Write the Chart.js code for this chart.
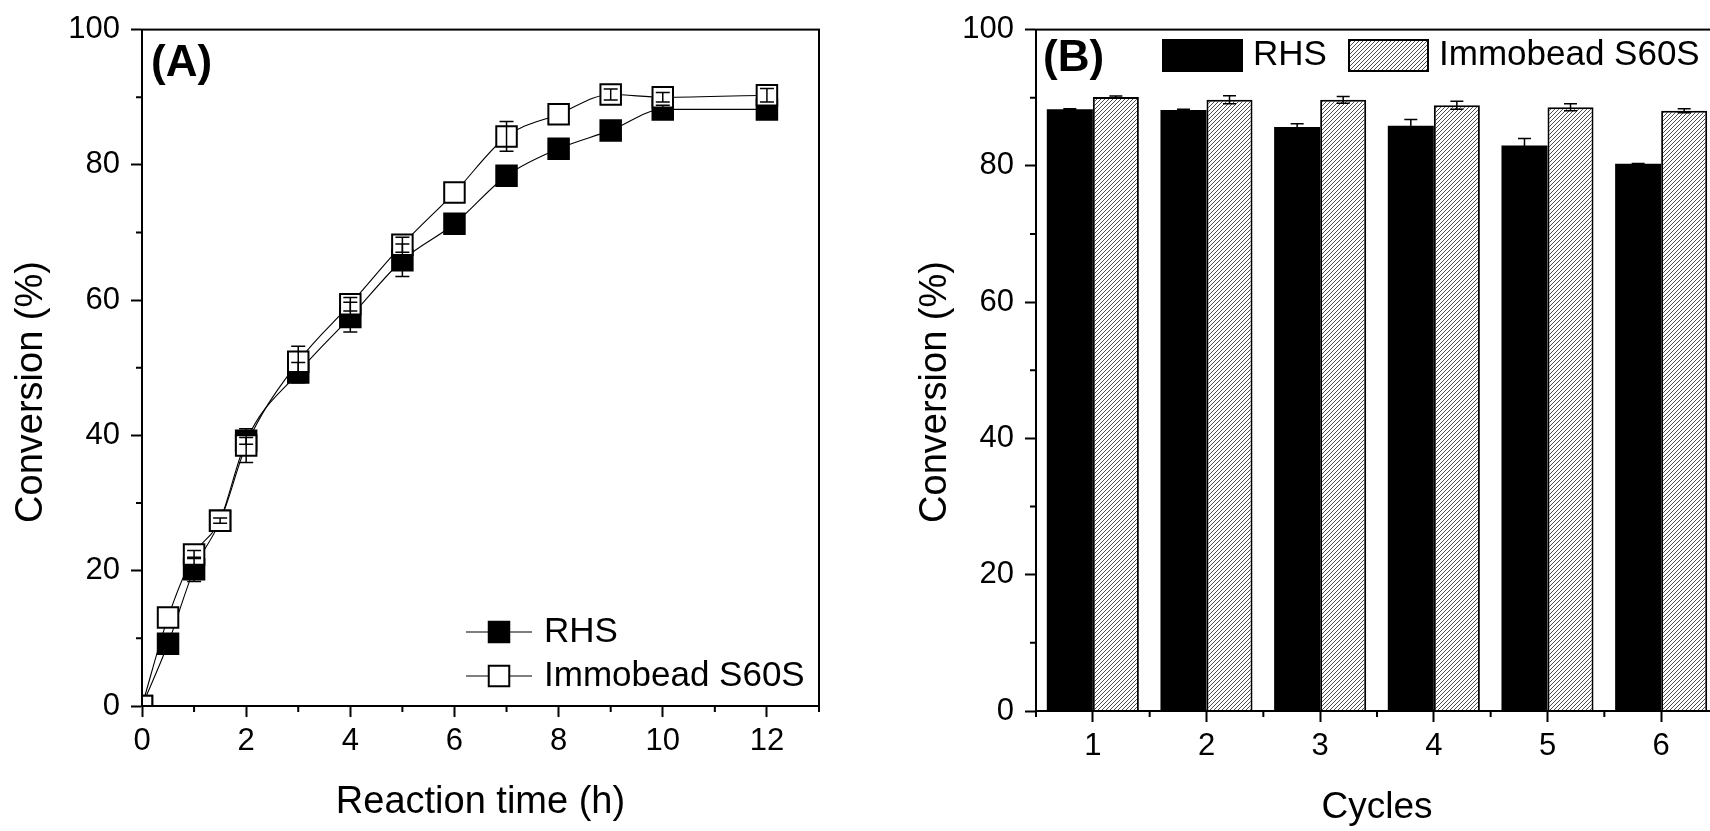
<!DOCTYPE html>
<html lang="en">
<head>
<meta charset="UTF-8">
<title>Conversion: reaction time and reuse cycles</title>
<script src="https://cdn.jsdelivr.net/npm/chart.js@4.4.1/dist/chart.umd.min.js"></script>
<style>
    html, body { margin: 0; padding: 0; background: #fff; overflow: hidden; }
    body { width: 1710px; height: 831px; position: relative; }
    #chartA { position: absolute; left: 0; top: 0; }
    #chartB { position: absolute; left: 860px; top: 0; }
</style>
</head>
<body>
<canvas id="chartA" width="860" height="831"></canvas>
<canvas id="chartB" width="900" height="831"></canvas>
<script>
// (A) conversion vs reaction time
const timeH    = [0, 0.5, 1, 1.5, 2, 3, 4, 5, 6, 7, 8, 9, 10, 12];
const rhsConv  = [0, 9.2, 20.2, 27.4, 39.2, 49.3, 57.5, 65.9, 71.3, 78.4, 82.4, 85.1, 88.2, 88.2];
const rhsErr   = [0, 0.4, 1.8, 0.4, 0.5, 1.5, 2.2, 2.4, 0.5, 0.8, 0.5, 0.5, 0.6, 0.4];
const immoConv = [0, 13.1, 22.4, 27.4, 38.5, 50.9, 59.4, 68.2, 75.9, 84.2, 87.5, 90.4, 90.0, 90.3];
const immoErr  = [0, 0, 0.6, 0, 2.5, 2.3, 1.0, 1.1, 0, 2.2, 0, 0.8, 0.7, 1.0];

// (B) conversion per reuse cycle
const cycles       = ['1', '2', '3', '4', '5', '6'];
const rhsCycle     = [88.3, 88.2, 85.7, 85.9, 83.0, 80.3];
const rhsCycleErr  = [0.1, 0.1, 0.5, 0.9, 1.0, 0.05];
const immoCycle    = [90.1, 89.7, 89.7, 88.9, 88.6, 88.1];
const immoCycleErr = [0.15, 0.6, 0.5, 0.6, 0.5, 0.3];

const FONT = "'Liberation Sans', Arial, sans-serif";
Chart.defaults.font.family = FONT;
Chart.defaults.font.size = 31;
Chart.defaults.color = '#000';

// symmetric error bars, drawn over all markers
const errorBars = {
    id: 'errorBars',
    afterDatasetsDraw(chart, args, o) {
        const { ctx, chartArea: a } = chart;
        const y = chart.scales.y;
        ctx.save();
        ctx.beginPath();
        ctx.rect(a.left, a.top, a.width, a.height);
        ctx.clip();
        ctx.strokeStyle = '#000';
        ctx.lineWidth = o.width;
        chart.data.datasets.forEach((ds, i) => {
            if (!ds.errors) return;
            chart.getDatasetMeta(i).data.forEach((el, j) => {
                const e = ds.errors[j];
                if (!e) return;
                const v = typeof ds.data[j] === 'object' ? ds.data[j].y : ds.data[j];
                const top = y.getPixelForValue(v + e), bot = y.getPixelForValue(v - e);
                const h = o.cap / 2;
                ctx.beginPath();
                ctx.moveTo(el.x, top); ctx.lineTo(el.x, bot);
                ctx.moveTo(el.x - h, top); ctx.lineTo(el.x + h, top);
                ctx.moveTo(el.x - h, bot); ctx.lineTo(el.x + h, bot);
                ctx.stroke();
            });
        });
        ctx.restore();
    }
};

// box around the plot + short minor ticks
const frame = {
    id: 'frame',
    afterDraw(chart, args, o) {
        const { ctx, chartArea: a } = chart;
        const x = chart.scales.x, y = chart.scales.y;
        ctx.save();
        ctx.strokeStyle = '#000';
        ctx.lineWidth = 2;
        ctx.strokeRect(a.left, a.top, a.width, a.height);
        ctx.beginPath();
        o.xMinor.forEach(v => {
            const p = x.getPixelForValue(v);
            ctx.moveTo(p, a.bottom); ctx.lineTo(p, a.bottom + o.len);
        });
        o.yMinor.forEach(v => {
            const p = y.getPixelForValue(v);
            ctx.moveTo(a.left, p); ctx.lineTo(a.left - o.len, p);
        });
        ctx.stroke();
        ctx.restore();
    }
};

// panel tag and rotated y title
const labels = {
    id: 'labels',
    afterDraw(chart, args, o) {
        const ctx = chart.ctx;
        ctx.save();
        ctx.fillStyle = '#000';
        ctx.font = 'bold ' + o.tagSize + 'px ' + FONT;
        ctx.textAlign = 'left';
        ctx.textBaseline = 'alphabetic';
        ctx.fillText(o.tag, o.tagX, o.tagY);
        ctx.translate(o.titleX, o.titleY);
        ctx.rotate(-Math.PI / 2);
        ctx.font = o.titleSize + 'px ' + FONT;
        ctx.textAlign = 'center';
        ctx.textBaseline = 'middle';
        ctx.fillText(o.title, 0, 0);
        ctx.restore();
    }
};

// legend for (A): line through marker, then label
const lineLegend = {
    id: 'lineLegend',
    afterDraw(chart, args, o) {
        const ctx = chart.ctx;
        ctx.save();
        chart.data.datasets.forEach((ds, i) => {
            const cy = o.rows[i];
            ctx.strokeStyle = '#000';
            ctx.lineWidth = 1.2;
            ctx.beginPath();
            ctx.moveTo(o.x0, cy); ctx.lineTo(o.x1, cy);
            ctx.stroke();
            const s = o.side;
            ctx.fillStyle = ds.pointBackgroundColor;
            ctx.lineWidth = 2;
            ctx.fillRect(o.mx - s / 2, cy - s / 2, s, s);
            ctx.strokeRect(o.mx - s / 2, cy - s / 2, s, s);
            ctx.fillStyle = '#000';
            ctx.font = o.size + 'px ' + FONT;
            ctx.textAlign = 'left';
            ctx.textBaseline = 'middle';
            ctx.fillText(ds.label, o.tx, cy);
        });
        ctx.restore();
    }
};

// legend for (B): filled boxes in one row
const boxLegend = {
    id: 'boxLegend',
    afterDraw(chart, args, o) {
        const ctx = chart.ctx;
        ctx.save();
        chart.data.datasets.forEach((ds, i) => {
            const bx = o.boxX[i];
            ctx.fillStyle = ds.backgroundColor;
            ctx.fillRect(bx, o.y, o.w, o.h);
            ctx.strokeStyle = '#000';
            ctx.lineWidth = 2;
            ctx.strokeRect(bx, o.y, o.w, o.h);
            ctx.fillStyle = '#000';
            ctx.font = o.size + 'px ' + FONT;
            ctx.textAlign = 'left';
            ctx.textBaseline = 'middle';
            ctx.fillText(ds.label, bx + o.w + o.gap, o.y + o.h / 2);
        });
        ctx.restore();
    }
};

function axisStyle() {
    return {
        grid: { drawOnChartArea: false, tickLength: 11, tickWidth: 2, tickColor: '#000' },
        border: { width: 2, color: '#000' }
    };
}

const oddHours = [];
for (let v = 1; v <= 13; v += 2) oddHours.push(v);
const oddTens = [10, 30, 50, 70, 90];

new Chart(document.getElementById('chartA'), {
    type: 'scatter',
    data: {
        datasets: [
            {
                label: 'RHS',
                data: timeH.map((t, i) => ({ x: t, y: rhsConv[i] })),
                errors: rhsErr,
                showLine: true,
                borderColor: '#000',
                borderWidth: 1.1,
                cubicInterpolationMode: 'monotone',
                pointStyle: 'rect',
                pointRadius: 14.5,
                pointBackgroundColor: '#000',
                pointBorderColor: '#000',
                pointBorderWidth: 2,
                clip: 0,
                order: 1
            },
            {
                label: 'Immobead S60S',
                data: timeH.map((t, i) => ({ x: t, y: immoConv[i] })),
                errors: immoErr,
                showLine: true,
                borderColor: '#000',
                borderWidth: 1.1,
                cubicInterpolationMode: 'monotone',
                pointStyle: 'rect',
                pointRadius: 14.5,
                pointBackgroundColor: '#fff',
                pointBorderColor: '#000',
                pointBorderWidth: 2,
                clip: 0,
                order: 0
            }
        ]
    },
    options: {
        responsive: false,
        animation: false,
        events: [],
        layout: { padding: { top: 29, right: 41, bottom: 0, left: 0 } },
        plugins: {
            legend: { display: false },
            tooltip: { enabled: false },
            errorBars: { width: 1.5, cap: 14 },
            frame: { xMinor: oddHours, yMinor: oddTens, len: 6 },
            labels: { tag: '(A)', tagSize: 44, tagX: 151, tagY: 76,
                      title: 'Conversion (%)', titleSize: 38, titleX: 32, titleY: 392 },
            lineLegend: { x0: 466, x1: 532, mx: 499, side: 20.5, tx: 544, rows: [632, 676], size: 35 }
        },
        scales: {
            x: Object.assign(axisStyle(), {
                type: 'linear', min: 0, max: 13,
                afterFit(s) { s.height = 125; },
                ticks: { stepSize: 2, includeBounds: false, padding: 6, maxRotation: 0 },
                title: { display: true, text: 'Reaction time (h)', font: { size: 38 }, padding: { top: 0, bottom: 6 } }
            }),
            y: Object.assign(axisStyle(), {
                min: 0, max: 100,
                afterFit(s) { s.width = 142; },
                ticks: { stepSize: 20, includeBounds: false, padding: 11 }
            })
        }
    },
    plugins: [errorBars, frame, labels, lineLegend]
});

// diagonal hatch for the Immobead bars
const hatch = (function () {
    const tile = document.createElement('canvas');
    tile.width = tile.height = 4;
    const g = tile.getContext('2d');
    g.fillStyle = '#fff';
    g.fillRect(0, 0, 4, 4);
    g.strokeStyle = '#000';
    g.lineWidth = 0.7;
    g.beginPath();
    g.moveTo(-1, 5); g.lineTo(5, -1);
    g.moveTo(-1, 1); g.lineTo(1, -1);
    g.moveTo(3, 5); g.lineTo(5, 3);
    g.stroke();
    return document.getElementById('chartB').getContext('2d').createPattern(tile, 'repeat');
})();

const boundaries = cycles.map((c, i) => i - 0.5);
boundaries.push(cycles.length - 0.5);

new Chart(document.getElementById('chartB'), {
    type: 'bar',
    data: {
        labels: cycles,
        datasets: [
            { label: 'RHS', data: rhsCycle, errors: rhsCycleErr,
              backgroundColor: '#000', borderColor: '#000', borderWidth: 0 },
            { label: 'Immobead S60S', data: immoCycle, errors: immoCycleErr,
              backgroundColor: hatch, borderColor: '#000', borderWidth: 2 }
        ]
    },
    options: {
        responsive: false,
        animation: false,
        events: [],
        categoryPercentage: 0.81,
        barPercentage: 1.0,
        layout: { padding: { top: 29, right: 42, bottom: 0, left: 0 } },
        plugins: {
            legend: { display: false },
            tooltip: { enabled: false },
            errorBars: { width: 1.5, cap: 13 },
            frame: { xMinor: boundaries, yMinor: oddTens, len: 6 },
            labels: { tag: '(B)', tagSize: 44, tagX: 183, tagY: 71,
                      title: 'Conversion (%)', titleSize: 38, titleX: 76, titleY: 392 },
            boxLegend: { boxX: [303, 489], y: 40, w: 79, h: 31, gap: 11, size: 35 }
        },
        scales: {
            x: Object.assign(axisStyle(), {
                type: 'category', offset: true,
                afterFit(s) { s.height = 120; },
                ticks: { padding: 6, maxRotation: 0 },
                title: { display: true, text: 'Cycles', font: { size: 37 }, padding: { top: 0, bottom: 1 } }
            }),
            y: Object.assign(axisStyle(), {
                min: 0, max: 100,
                afterFit(s) { s.width = 176; },
                ticks: { stepSize: 20, includeBounds: false, padding: 11 }
            })
        }
    },
    plugins: [errorBars, frame, labels, boxLegend]
});
// grid offset off so the major ticks sit under each cycle number
Chart.getChart('chartB').options.scales.x.grid.offset = false;
Chart.getChart('chartB').update();
</script>
</body>
</html>
